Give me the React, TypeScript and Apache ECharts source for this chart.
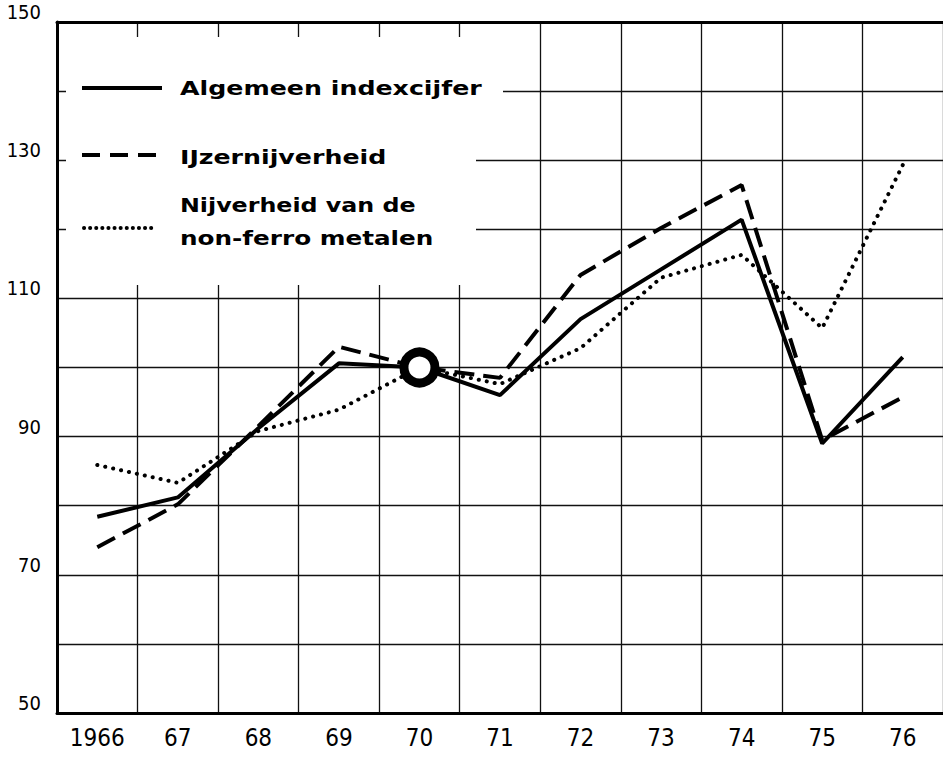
import React, { useEffect, useRef } from "react";
import * as echarts from "echarts";

const categories = ["1966", "67", "68", "69", "70", "71", "72", "73", "74", "75", "76"];
const algemeen = [78.4, 81.2, 91.2, 100.6, 100, 96.0, 107.0, 114.2, 121.4, 89.0, 101.5];
const ijzer = [74.0, 80.2, 91.5, 103.0, 100, 98.5, 113.4, 120.2, 126.4, 89.5, 95.7];
const nonFerro = [85.9, 83.3, 90.8, 93.9, 100, 97.6, 102.8, 113.0, 116.3, 105.7, 129.3];
const baseYear = "70";
const baseValue = 100;
const yTicks = [50, 70, 90, 110, 130, 150];

const legendLabels = ["Algemeen indexcijfer", "IJzernijverheid", "Nijverheid van de", "non-ferro metalen"];

export default function App() {
  const ref = useRef<HTMLDivElement>(null);
  useEffect(() => {
    document.body.style.margin = "0";
    const chart = echarts.init(ref.current!, null, { renderer: "svg" });
    const legendFont = {
      fontFamily: "DejaVu Sans",
      fontWeight: "bold" as const,
      fontSize: 19,
      fill: "#000",
    };
    chart.setOption({
      animation: false,
      backgroundColor: "#fff",
      grid: { left: 57, top: 22, right: -6, bottom: 44 },
      xAxis: [
        {
          type: "category",
          data: categories,
          boundaryGap: true,
          axisLine: { lineStyle: { color: "#000", width: 3 } },
          axisTick: { show: false },
          axisLabel: {
            margin: 13,
            fontFamily: "DejaVu Sans Condensed, Liberation Sans Narrow, sans-serif",
            fontSize: 24,
            color: "#000",
            interval: 0,
          },
          splitLine: { show: true, interval: 0, lineStyle: { color: "#111", width: 1.3 } },
        },
        {
          type: "category",
          data: categories,
          position: "top",
          boundaryGap: true,
          axisLine: { lineStyle: { color: "#000", width: 3 } },
          axisTick: { show: false },
          axisLabel: { show: false },
          splitLine: { show: false },
        },
      ],
      yAxis: {
        type: "value",
        min: 50,
        max: 150,
        interval: 10,
        axisLine: { show: true, lineStyle: { color: "#000", width: 3 } },
        axisTick: { show: false },
        axisLabel: {
          margin: 16,
          fontFamily: "DejaVu Sans Condensed, sans-serif",
          fontSize: 20,
          color: "#000",
          verticalAlign: "bottom",
          lineHeight: 20,
          formatter: (v: number) => (yTicks.includes(v) ? String(v) : ""),
        },
        splitLine: { show: true, lineStyle: { color: "#111", width: 1.3 } },
      },
      series: [
        {
          type: "line",
          name: legendLabels[0],
          data: algemeen,
          symbol: "none",
          lineStyle: { color: "#000", width: 4 },
          z: 3,
        },
        {
          type: "line",
          name: legendLabels[1],
          data: ijzer,
          symbol: "none",
          lineStyle: { color: "#000", width: 4, type: [20, 9] },
          z: 3,
        },
        {
          type: "line",
          name: "non-ferro",
          data: nonFerro,
          symbol: "none",
          lineStyle: { color: "#000", width: 4, type: [0.1, 8], cap: "round" },
          z: 3,
        },
        {
          type: "scatter",
          data: [[baseYear, baseValue]],
          symbol: "circle",
          symbolSize: 31,
          itemStyle: { color: "#fff", borderColor: "#000", borderWidth: 9, opacity: 1 },
          z: 6,
        },
      ],
      graphic: [
        { type: "rect", z: 1, shape: { x: 66, y: 37, width: 410, height: 248 }, style: { fill: "#fff" } },
        { type: "rect", z: 1, shape: { x: 470, y: 84, width: 33, height: 14 }, style: { fill: "#fff" } },
        { type: "line", z: 5, shape: { x1: 82, y1: 88, x2: 162, y2: 88 }, style: { stroke: "#000", lineWidth: 4 } },
        {
          type: "line",
          z: 5,
          shape: { x1: 82, y1: 155, x2: 162, y2: 155 },
          style: { stroke: "#000", lineWidth: 4, lineDash: [18, 10] },
        },
        {
          type: "line",
          z: 5,
          shape: { x1: 84, y1: 228, x2: 152, y2: 228 },
          style: { stroke: "#000", lineWidth: 4, lineDash: [0.1, 6], lineCap: "round" },
        },
        { type: "text", z: 5, x: 180, y: 88, scaleX: 1.33, style: { ...legendFont, text: legendLabels[0], verticalAlign: "middle" } },
        { type: "text", z: 5, x: 180, y: 157, scaleX: 1.33, style: { ...legendFont, text: legendLabels[1], verticalAlign: "middle" } },
        { type: "text", z: 5, x: 180, y: 205, scaleX: 1.25, style: { ...legendFont, text: legendLabels[2], verticalAlign: "middle" } },
        { type: "text", z: 5, x: 180, y: 239, scaleX: 1.3, style: { ...legendFont, text: legendLabels[3], verticalAlign: "middle" } },
      ],
    });
    return () => chart.dispose();
  }, []);
  return <div ref={ref} style={{ width: 943, height: 757 }} />;
}
